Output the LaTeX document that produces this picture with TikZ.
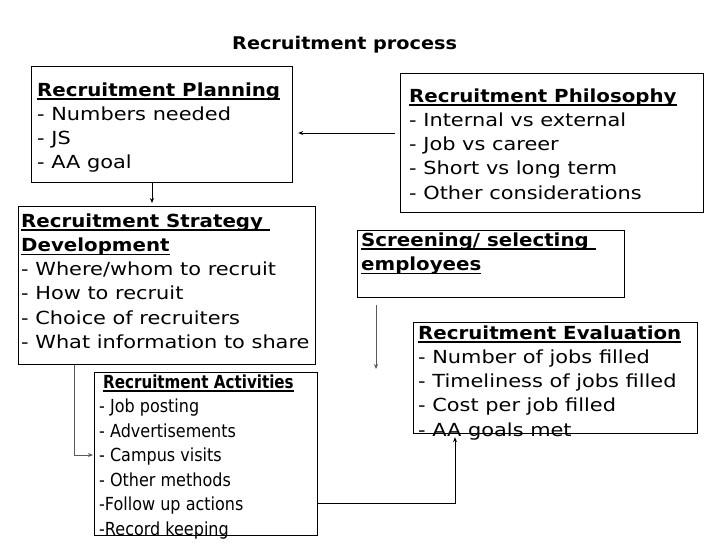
\documentclass[tikz,border=0pt]{standalone}
\usepackage{fontspec}
\setmainfont{DejaVu Sans}[FakeStretch=1.16,BoldFeatures={FakeStretch=1.10}]
\newfontfamily\narrowfont{DejaVu Sans}[FakeStretch=0.89,BoldFeatures={FakeStretch=0.84}]
\usetikzlibrary{arrows.meta}
\newcommand\stack[1]{\vtop{\halign{##\hfil\cr#1\crcr}}}
\newcommand\ulh[1]{\setbox0\hbox{\textbf{#1}}\rlap{\vrule height -2.2pt depth 3.6pt width\wd0}\box0}
\begin{document}
\begin{tikzpicture}[x=1pt,y=-1pt,
  box/.style={draw,line width=1.2pt,inner sep=0pt,anchor=north west},
  txt/.style={anchor=base west,inner sep=0pt,font=\fontsize{18}{24.3}\selectfont},
  conn/.style={line width=0.8pt,-{Stealth[length=5pt,width=4pt]}}]
\useasboundingbox (0,0) rectangle (728,546);
\node[anchor=base west,inner sep=0pt,font=\fontsize{17.5}{20}\selectfont\bfseries] (title) at (232,49) {Recruitment process};
\node[box,minimum width=261pt,minimum height=116pt] (plan) at (31,66) {};
\node[box,minimum width=303pt,minimum height=139pt] (phil) at (400,73) {};
\node[box,minimum width=297pt,minimum height=158pt] (strat) at (18,206) {};
\node[box,minimum width=267pt,minimum height=67pt] (screen) at (357,230) {};
\node[box,minimum width=284pt,minimum height=111pt] (eval) at (413,322) {};
\node[box,minimum width=223pt,minimum height=163pt] (act) at (94,372) {};
\node[txt] (plant) at (37,96) {\stack{\ulh{Recruitment Planning}\cr - Numbers needed\cr - JS\cr - AA goal}};
\node[txt] (philt) at (409,102) {\stack{\ulh{Recruitment Philosophy}\cr - Internal vs external\cr - Job vs career\cr - Short vs long term\cr - Other considerations}};
\node[txt] (stratt) at (21,227) {\stack{\ulh{Recruitment Strategy\ }\cr \ulh{Development}\cr - Where/whom to recruit\cr - How to recruit\cr - Choice of recruiters\cr - What information to share}};
\node[txt] (screent) at (361,246) {\stack{\ulh{Screening/ selecting\ }\cr \ulh{employees}}};
\node[txt] (evalt) at (418,339) {\stack{\ulh{Recruitment Evaluation}\cr - Number of jobs filled\cr - Timeliness of jobs filled\cr - Cost per job filled\cr - AA goals met}};
\node[txt,font=\fontsize{18}{24.5}\selectfont\narrowfont] (actt) at (99,388) {\stack{\hspace{4pt}\ulh{Recruitment Activities}\cr - Job posting\cr - Advertisements\cr - Campus visits\cr - Other methods\cr -Follow up actions\cr -Record keeping}};
\draw[conn] ([xshift=-5pt]phil.west |- 0,133) -- ([xshift=5pt]plan.east |- 0,133);
\draw[conn] (plan.south -| 152,0) -- ([yshift=3pt]strat.north -| 152,0);
\draw[conn,draw=black!65,fill=black!65] ([yshift=-7pt]screen.south -| 376,0) -- ([yshift=3pt]act.north -| 376,0);
\draw[conn,draw=black!65] (strat.south -| 74,0) |- ([xshift=-1pt]act.west |- 0,455);
\draw[conn] (act.east |- 0,503) -| ([yshift=-3pt]eval.south -| 455,0);
\end{tikzpicture}
\end{document}
